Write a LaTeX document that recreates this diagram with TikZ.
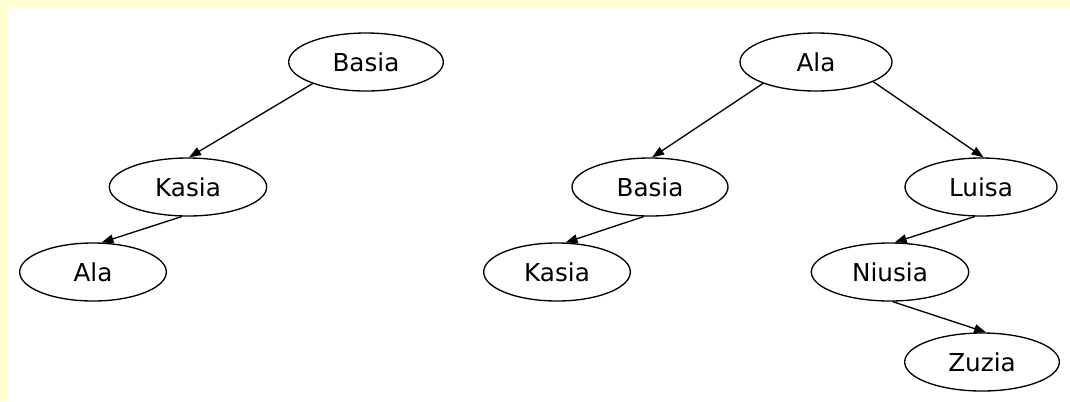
\documentclass[tikz,border=0pt]{standalone}
\usepackage{fontspec}
\setmainfont{DejaVu Sans}
\usetikzlibrary{shapes.geometric,arrows.meta}
\definecolor{paper}{RGB}{255,255,208}
\begin{document}
\begin{tikzpicture}[x=0.75pt,y=-0.75pt,
  person/.style={draw, ellipse, line width=1pt, minimum width=116pt,
    minimum height=43.5pt, inner sep=0pt, font=\fontsize{18.5}{21}\selectfont},
  link/.style={line width=1pt, -{Triangle[length=9pt,width=6.5pt]}}]
% page with a pale frame on the top and left
\fill[paper] (0,0) rectangle (1070,401);
\fill[white] (8,7) rectangle (1070,401);
\useasboundingbox (0,0) rectangle (1070,401);

% left tree
\node[person] (basiaL) at (366,62) {Basia};
\node[person, minimum width=118pt] (kasiaL) at (188,187) {Kasia};
\node[person, minimum width=110pt] (alaL) at (93,272) {Ala};

% right tree
\node[person, minimum width=114pt] (alaR) at (816,62) {Ala};
\node[person, minimum width=117pt] (basiaR) at (650,187) {Basia};
\node[person, minimum width=110pt] (kasiaR) at (557,272) {Kasia};
\node[person, minimum width=114pt] (luisaR) at (981,187) {Luisa};
\node[person, minimum width=118pt] (niusiaR) at (890,272) {Niusia};
\node[person] (zuziaR) at (982,362) {Zuzia};

% edges
\draw[link] (basiaL.202) -- (kasiaL.88);
\draw[link] (kasiaL.258) -- (alaL.74);
\draw[link] (alaR.202) -- (basiaR.86);
\draw[link] (alaR.341) -- (luisaR.85);
\draw[link] (basiaR.258) -- (kasiaR.74);
\draw[link] (luisaR.258) -- (niusiaR.81);
\draw[link] (niusiaR.275) -- (zuziaR.82);
\end{tikzpicture}
\end{document}
